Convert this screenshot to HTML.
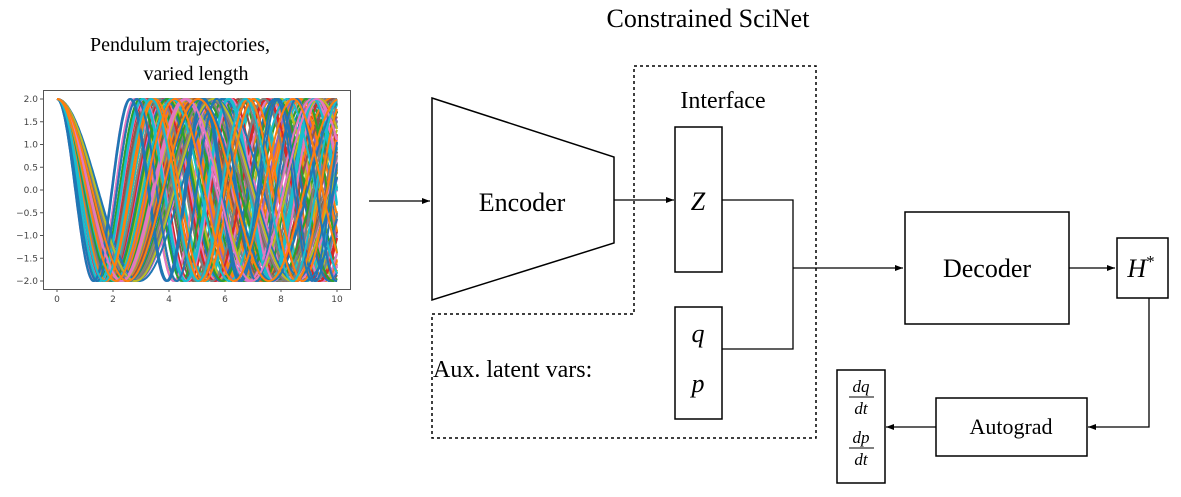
<!DOCTYPE html>
<html><head><meta charset="utf-8">
<style>
html,body{margin:0;padding:0;background:#fff;}
svg{display:block;}
text{font-family:"Liberation Serif",serif;fill:#000;}
.m{font-style:italic;}
.t{font-family:"DejaVu Sans","Liberation Sans",sans-serif;font-size:9px;fill:#444;}
</style></head><body>
<svg id="s" width="1181" height="497" viewBox="0 0 1181 497" xmlns="http://www.w3.org/2000/svg">
<defs><marker id="a" markerWidth="8" markerHeight="6" refX="8" refY="3" orient="auto" markerUnits="userSpaceOnUse"><path d="M0,0 L8,3 L0,6 z" fill="#000"/></marker>
<clipPath id="cp"><rect x="43" y="90" width="308" height="199"/></clipPath></defs>
<text x="708" y="27" font-size="26" text-anchor="middle">Constrained SciNet</text>
<text x="180" y="51" font-size="20" text-anchor="middle">Pendulum trajectories,</text>
<text x="196" y="80" font-size="20" text-anchor="middle">varied length</text>
<g id="curves" clip-path="url(#cp)" fill="none" stroke-width="2"></g>
<rect x="43.5" y="90.5" width="307" height="199" fill="none" stroke="#555" stroke-width="1"/>
<g id="ticks"></g>
<path d="M634,66 H816 V438 H432 V314 H634 Z" fill="none" stroke="#000" stroke-width="1.5" stroke-dasharray="3,3"/>
<path d="M432,98 L614,157 L614,243 L432,300 Z" fill="#fff" stroke="#000" stroke-width="1.5"/>
<text x="522" y="211" font-size="26" text-anchor="middle">Encoder</text>
<line x1="369" y1="201" x2="430" y2="201" stroke="#000" stroke-width="1.3" marker-end="url(#a)"/>
<line x1="614" y1="200" x2="674" y2="200" stroke="#000" stroke-width="1.3" marker-end="url(#a)"/>
<text x="723" y="108" font-size="24" text-anchor="middle">Interface</text>
<rect x="675" y="127" width="47" height="145" fill="#fff" stroke="#000" stroke-width="1.5"/>
<text x="698" y="210" font-size="26" class="m" text-anchor="middle">Z</text>
<rect x="675" y="307" width="47" height="112" fill="#fff" stroke="#000" stroke-width="1.5"/>
<text x="698" y="342" font-size="26" class="m" text-anchor="middle">q</text>
<text x="698" y="392" font-size="26" class="m" text-anchor="middle">p</text>
<text x="433" y="377" font-size="24">Aux. latent vars:</text>
<path d="M722,200 H793 V349 H722" fill="none" stroke="#000" stroke-width="1.3"/>
<line x1="793" y1="268" x2="903" y2="268" stroke="#000" stroke-width="1.3" marker-end="url(#a)"/>
<rect x="905" y="212" width="164" height="112" fill="#fff" stroke="#000" stroke-width="1.5"/>
<text x="987" y="277" font-size="26" text-anchor="middle">Decoder</text>
<line x1="1069" y1="268" x2="1115" y2="268" stroke="#000" stroke-width="1.3" marker-end="url(#a)"/>
<rect x="1117" y="238" width="51" height="60" fill="#fff" stroke="#000" stroke-width="1.5"/>
<text x="1141" y="277" font-size="26" class="m" text-anchor="middle">H<tspan font-size="17" dy="-10" font-style="normal">*</tspan></text>
<path d="M1149,298 V427 H1088" fill="none" stroke="#000" stroke-width="1.3" marker-end="url(#a)"/>
<rect x="936" y="398" width="151" height="58" fill="#fff" stroke="#000" stroke-width="1.5"/>
<text x="1011" y="434" font-size="22" text-anchor="middle">Autograd</text>
<line x1="936" y1="427" x2="886" y2="427" stroke="#000" stroke-width="1.3" marker-end="url(#a)"/>
<rect x="837" y="370" width="48" height="113" fill="#fff" stroke="#000" stroke-width="1.5"/>
<g font-size="17" class="m" text-anchor="middle">
<text x="861" y="392" class="m">dq</text><line x1="849" y1="397" x2="874" y2="397" stroke="#000" stroke-width="1"/><text x="861" y="414" class="m">dt</text>
<text x="861" y="443" class="m">dp</text><line x1="849" y1="448" x2="874" y2="448" stroke="#000" stroke-width="1"/><text x="861" y="465" class="m">dt</text>
</g>
</svg>
<script>
(function(){
var ns="http://www.w3.org/2000/svg";
var g=document.getElementById('curves'),tk=document.getElementById('ticks');
var cols=["#1f77b4","#ff7f0e","#2ca02c","#d62728","#9467bd","#8c564b","#e377c2","#7f7f7f","#bcbd22","#17becf"];
var seed=7;function rnd(){seed=(seed*16807)%2147483647;return seed/2147483647;}
function X(t){return 57+t*28;} function Y(v){return 190-v*45.5;}
var N=110,Ts=[];
for(var i=0;i<N;i++)Ts.push(2.6+3.3*rnd());
for(var i=0;i<N;i++){
 var T=Ts[i];
 var d="";
 for(var k=0;k<=300;k++){var t=k/30;var v=2*Math.cos(2*Math.PI*t/T);
  d+=(k?"L":"M")+X(t).toFixed(1)+","+Y(v).toFixed(1);}
 var p=document.createElementNS(ns,"path");p.setAttribute("d",d);p.setAttribute("stroke",cols[Math.floor(rnd()*10)]);g.appendChild(p);
}
function txt(x,y,s,a){var e=document.createElementNS(ns,"text");e.setAttribute("x",x);e.setAttribute("y",y);e.setAttribute("class","t");e.setAttribute("text-anchor",a);e.textContent=s;tk.appendChild(e);}
function ln(x1,y1,x2,y2){var e=document.createElementNS(ns,"line");e.setAttribute("x1",x1);e.setAttribute("y1",y1);e.setAttribute("x2",x2);e.setAttribute("y2",y2);e.setAttribute("stroke","#555");tk.appendChild(e);}
var ys=["2.0","1.5","1.0","0.5","0.0","\u22120.5","\u22121.0","\u22121.5","\u22122.0"];
for(var j=0;j<9;j++){var y=Y(2-0.5*j);ln(40,y,43,y);txt(38,y+3,ys[j],"end");}
for(var j=0;j<=5;j++){var x=X(2*j);ln(x,289,x,292);txt(x,302,String(2*j),"middle");}
})();
</script>
</body></html>
